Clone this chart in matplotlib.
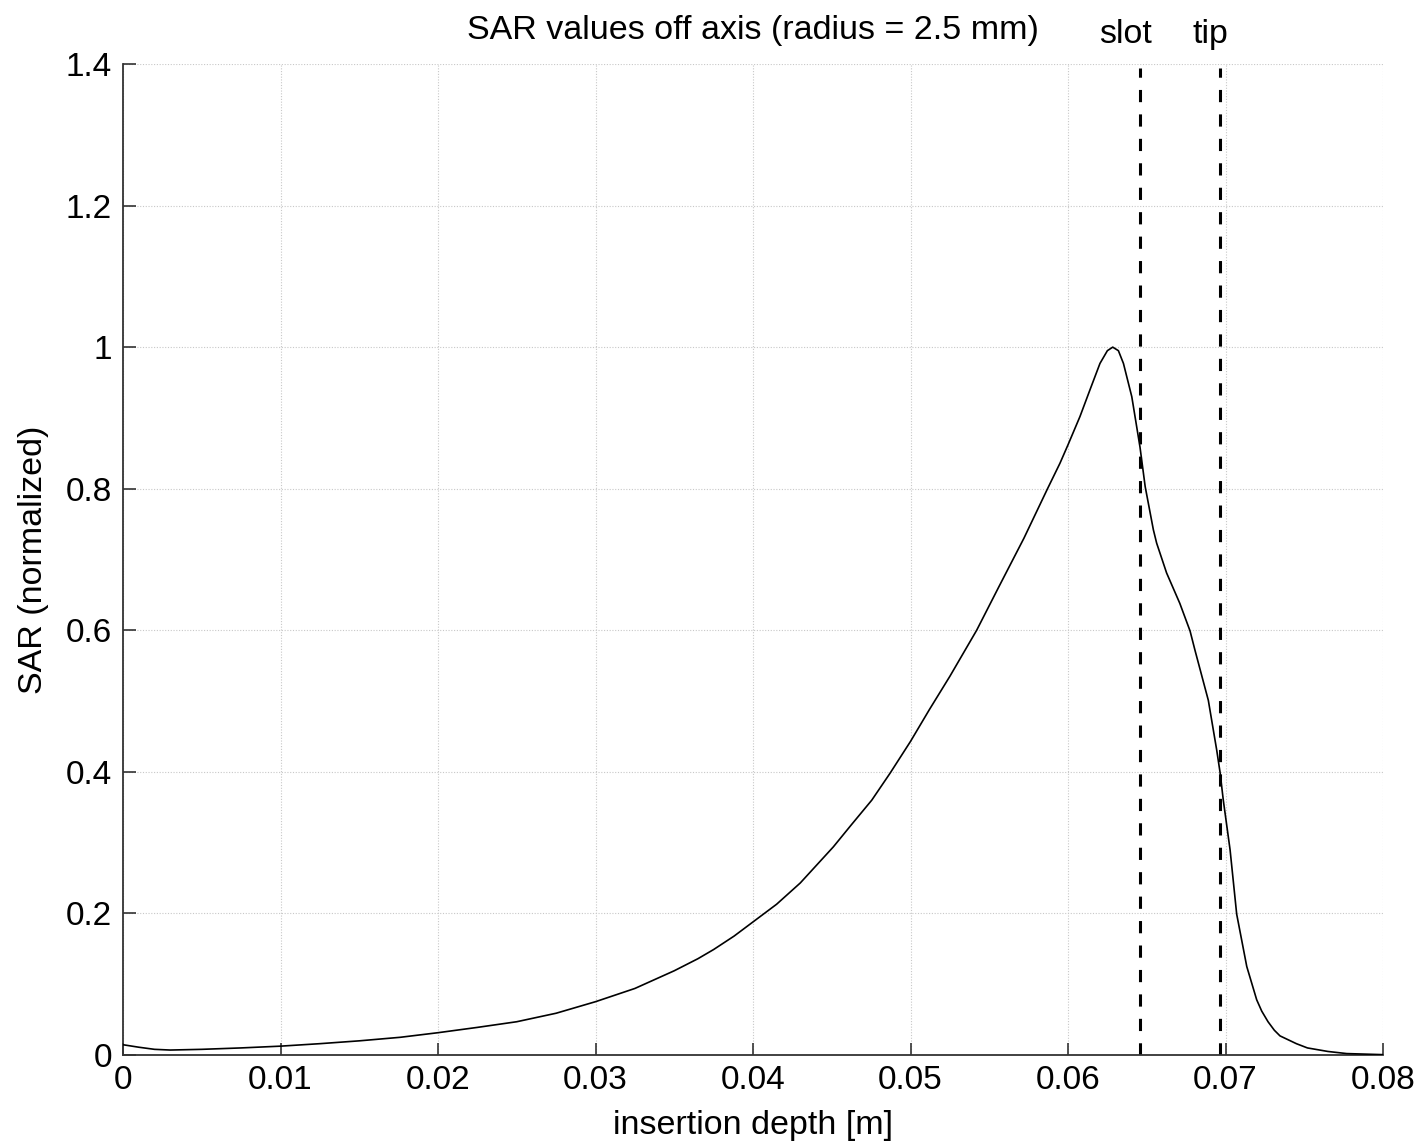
import matplotlib
matplotlib.use("Agg")
import matplotlib.pyplot as plt
from matplotlib.ticker import FixedLocator, FixedFormatter

# ---- data ----
depth = [0.0, 0.001, 0.002, 0.003, 0.005, 0.0075, 0.010, 0.0125, 0.015, 0.0176,
         0.020, 0.0225, 0.025, 0.0275, 0.030, 0.0325, 0.0335, 0.035, 0.0365,
         0.0375, 0.0388, 0.040, 0.0415, 0.043, 0.0451, 0.0462, 0.04754, 0.0487,
         0.050, 0.0512, 0.0525, 0.0542, 0.0556, 0.0572, 0.0587, 0.05949, 0.060,
         0.06076, 0.0614, 0.06203, 0.0625, 0.06284, 0.0632, 0.06352, 0.06405,
         0.06457, 0.0649, 0.06542, 0.06563, 0.06626, 0.0671, 0.06775, 0.06806,
         0.06891, 0.06944, 0.06965, 0.06986, 0.07029, 0.07071, 0.07135, 0.07198,
         0.0723, 0.0727, 0.0731, 0.07346, 0.0745, 0.0752, 0.0765, 0.0777, 0.080]
sar = [0.0145, 0.011, 0.008, 0.007, 0.008, 0.010, 0.0125, 0.016, 0.020, 0.025,
       0.0315, 0.039, 0.047, 0.059, 0.0753, 0.094, 0.104, 0.119, 0.136,
       0.149, 0.168, 0.188, 0.213, 0.243, 0.294, 0.324, 0.36, 0.398,
       0.443, 0.488, 0.535, 0.60, 0.661, 0.73, 0.80, 0.836, 0.862,
       0.902, 0.94, 0.977, 0.995, 1.0, 0.995, 0.977, 0.93,
       0.859, 0.803, 0.742, 0.723, 0.681, 0.638, 0.599, 0.572,
       0.501, 0.431, 0.40, 0.36, 0.29, 0.199, 0.125, 0.078,
       0.062, 0.047, 0.035, 0.027, 0.016, 0.010, 0.005, 0.002, 0.0005]

slot_x = 0.06457
tip_x = 0.06965

x_ticks = [0, 0.01, 0.02, 0.03, 0.04, 0.05, 0.06, 0.07, 0.08]
x_labels = ["0", "0.01", "0.02", "0.03", "0.04", "0.05", "0.06", "0.07", "0.08"]
y_ticks = [0, 0.2, 0.4, 0.6, 0.8, 1.0, 1.2, 1.4]
y_labels = ["0", "0.2", "0.4", "0.6", "0.8", "1", "1.2", "1.4"]

title = "SAR values off axis (radius = 2.5 mm)"
xlabel = "insertion depth [m]"
ylabel = "SAR (normalized)"

# ---- figure ----
plt.rcParams['font.family'] = ['Liberation Sans', 'DejaVu Sans']
fig = plt.figure(figsize=(14.24, 11.48), dpi=100)
ax = fig.add_axes([123/1424, 1 - 1055/1148, 1260/1424, 991/1148])

ax.plot(depth, sar, color='black', lw=1.2, zorder=3,
        solid_joinstyle='round')
ax.axvline(slot_x, ymax=0.996, color='black', lw=2.2, ls=(0, (4, 4)), zorder=2)
ax.axvline(tip_x, ymax=0.996, color='black', lw=2.2, ls=(0, (4, 4)), zorder=2)

ax.set_xlim(0, 0.08)
ax.set_ylim(0, 1.4)
ax.xaxis.set_major_locator(FixedLocator(x_ticks))
ax.xaxis.set_major_formatter(FixedFormatter(x_labels))
ax.yaxis.set_major_locator(FixedLocator(y_ticks))
ax.yaxis.set_major_formatter(FixedFormatter(y_labels))

ax.grid(True, color='#c8c8c8', ls=(0, (1, 1.5)), lw=0.8, zorder=0)
for s in ['top', 'right']:
    ax.spines[s].set_visible(False)
for s in ['left', 'bottom']:
    ax.spines[s].set_color('#333333')
    ax.spines[s].set_linewidth(1.3)
ax.tick_params(direction='in', length=9, width=1.2, color='#333333',
               labelsize=24, pad=8)
ax.tick_params(axis='x', pad=7)

ax.set_title(title, fontsize=24.5, pad=18)
ax.set_xlabel(xlabel, fontsize=24.5, labelpad=10)
ax.set_ylabel(ylabel, fontsize=24.5, labelpad=12)

ax.text(slot_x - 0.0009, 1.42, "slot", fontsize=24.5, ha='center', va='bottom',
        transform=ax.transData, clip_on=False)
ax.text(tip_x - 0.0006, 1.42, "tip", fontsize=24.5, ha='center', va='bottom',
        transform=ax.transData, clip_on=False)

fig.savefig("out.png", dpi=100, facecolor='white')
